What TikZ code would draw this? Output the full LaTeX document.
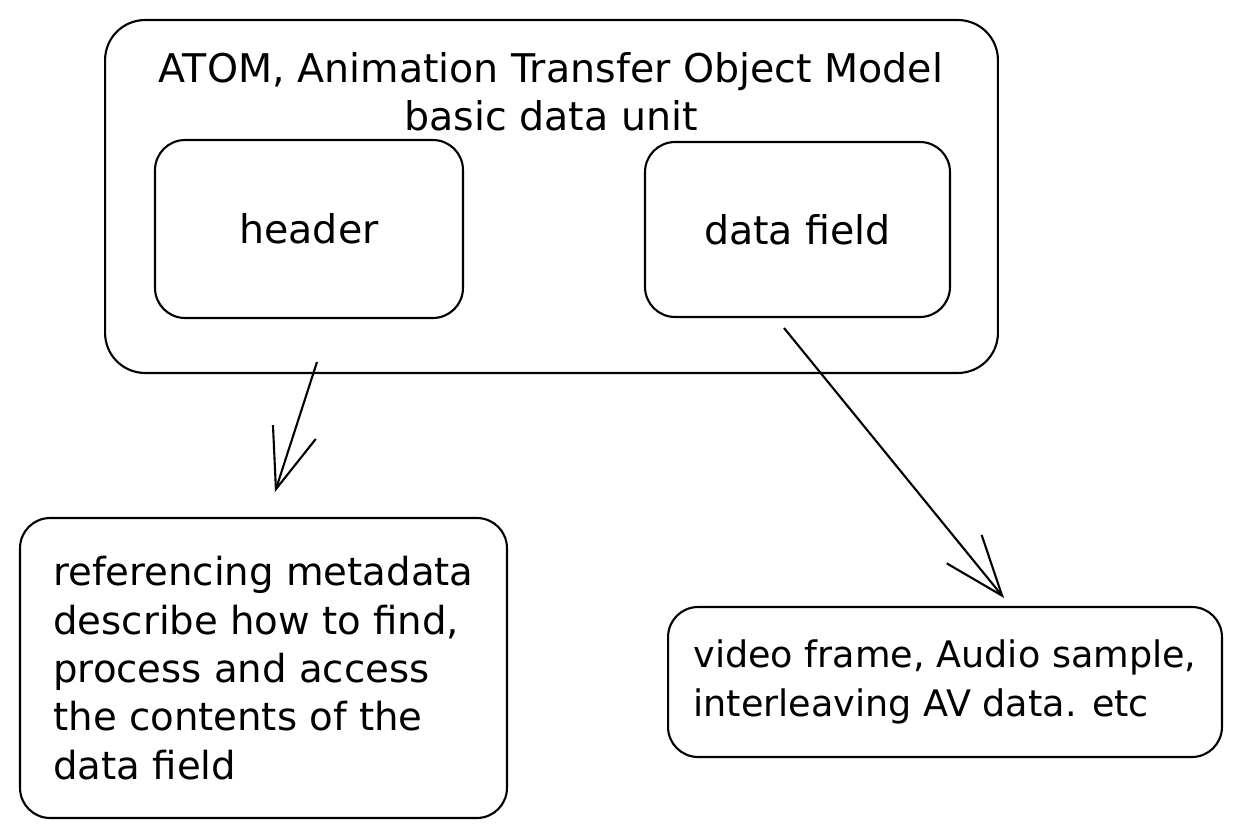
\documentclass[tikz,border=0pt]{standalone}
\usepackage{fontspec}
\setmainfont{DejaVu Sans}
\usepackage{tikz}
\usetikzlibrary{arrows.meta,positioning}

\begin{document}
\begin{tikzpicture}[
  x=0.02cm, y=-0.02cm,
  box/.style={rectangle, draw, line width=1.2pt, rounded corners=0.6cm,
    font=\fontsize{22.5}{27.5}\selectfont},
  outerbox/.style={box, rounded corners=0.8cm},
  note/.style={box, align=left},
  arr/.style={-{Straight Barb[length=1.2cm, width=0.9cm, line width=1.2pt]}, line width=1.2pt}
]
  \useasboundingbox (0,0) rectangle (1241,838);

  % Container
  \node[outerbox, minimum width=17.86cm, minimum height=7.06cm] (atom) at (551.5,196.5) {};
  \node[font=\fontsize{22.5}{27.5}\selectfont, align=center] (title) at (551,92)
    {ATOM, Animation Transfer Object Model\\basic data unit};

  % Parts
  \node[box, minimum width=6.16cm, minimum height=3.56cm] (header) at (309,229) {header};
  \node[box, minimum width=6.1cm, minimum height=3.5cm] (field) at (797.5,229.5) {data field};

  % Descriptions
  \node[note, minimum width=9.74cm, minimum height=6cm, font=\fontsize{22}{27.5}\selectfont] (meta) at (263.5,668)
    {referencing metadata\\describe how to find,\\process and access\\the contents of the\\data field};
  \node[note, minimum width=11.08cm, minimum height=3cm, font=\fontsize{20.8}{27.5}\selectfont] (payload) at (945,682)
    {video frame, Audio sample,\\interleaving AV data. etc};

  % Arrows
  \coordinate (h0) at (317,362);
  \coordinate (h1) at (275,492);
  \coordinate (f0) at (784,328);
  \coordinate (f1) at (1004,598);
  \draw[arr] (h0) -- (h1);
  \draw[arr] (f0) -- (f1);
\end{tikzpicture}
\end{document}
